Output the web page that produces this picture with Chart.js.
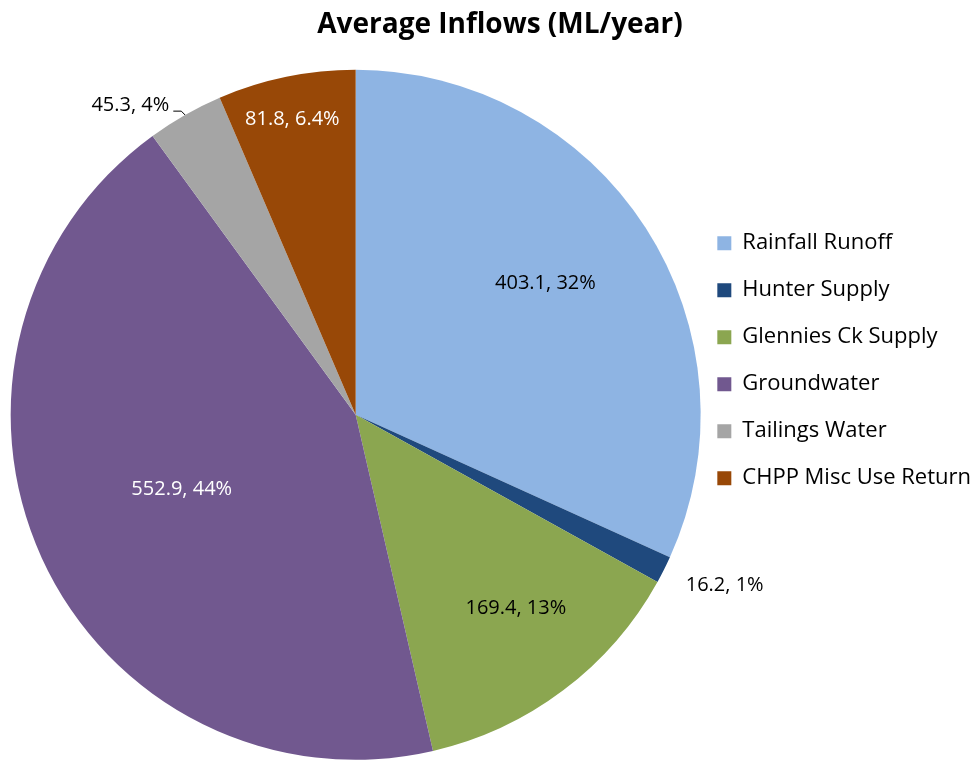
<!DOCTYPE html>
<html>
<head>
<meta charset="utf-8">
<script src="https://cdn.jsdelivr.net/npm/chart.js@4.4.1/dist/chart.umd.min.js"></script>
<style>
  html, body { margin: 0; padding: 0; background: #fff; }
  #wrap { width: 976px; height: 760px; }
</style>
</head>
<body>
<div id="wrap"><canvas id="myChart" width="976" height="760"></canvas></div>
<script>
// data
var categories = ["Rainfall Runoff", "Hunter Supply", "Glennies Ck Supply", "Groundwater", "Tailings Water", "CHPP Misc Use Return"];
var inflows = [403.1, 16.2, 169.4, 552.9, 45.3, 81.8];
var percentLabels = ["32%", "1%", "13%", "44%", "4%", "6.4%"];

// styling
var sliceColors = ['#8EB4E3', '#1F497D', '#8BA650', '#71588F', '#A5A5A5', '#984807'];
var labelColors = ['#000', '#000', '#000', '#fff', '#000', '#fff'];
var labelRadius = [0.67, 1.178, 0.727, 0.549, 1.11, 0.875]; // fraction of outer radius
var labelTurn = [-2, -1.9, -2.7, 1.2, -6.4, -0.5];           // degrees off the slice middle
var leaderLine = [false, false, false, false, true, false];

// draws "value, pct" labels on / next to each slice
var sliceLabels = {
  id: 'sliceLabels',
  afterDatasetsDraw: function (chart) {
    var ctx = chart.ctx;
    var arcs = chart.getDatasetMeta(0).data;
    ctx.save();
    ctx.font = '20px "Open Sans"';
    ctx.textAlign = 'center';
    ctx.textBaseline = 'middle';
    arcs.forEach(function (arc, i) {
      var p = arc.getProps(['x', 'y', 'startAngle', 'endAngle', 'outerRadius'], true);
      var mid = (p.startAngle + p.endAngle) / 2;
      var a = mid + labelTurn[i] * Math.PI / 180;
      var r = p.outerRadius * labelRadius[i];
      var lx = p.x + Math.cos(a) * r;
      var ly = p.y + Math.sin(a) * r;
      var text = inflows[i] + ', ' + percentLabels[i];
      ctx.fillStyle = labelColors[i];
      ctx.fillText(text, lx, ly);

      if (leaderLine[i]) {
        var w = ctx.measureText(text).width;
        var sx = lx + w / 2 + 4;
        var sy = ly + 6;
        ctx.beginPath();
        ctx.moveTo(sx, sy);
        ctx.lineTo(sx + 8, sy);
        ctx.lineTo(p.x + Math.cos(mid) * p.outerRadius, p.y + Math.sin(mid) * p.outerRadius);
        ctx.strokeStyle = '#000';
        ctx.lineWidth = 1;
        ctx.stroke();
      }
    });
    ctx.restore();
  }
};

document.addEventListener("DOMContentLoaded", function () {
  var ctx = document.getElementById("myChart").getContext("2d");

  var myPieChart = new Chart(ctx, {
    type: 'pie',
    data: {
      labels: categories,
      datasets: [{
        label: "Average Inflows",
        data: inflows,
        backgroundColor: sliceColors,
        borderWidth: 0,
        radius: 345
      }]
    },
    options: {
      responsive: false,
      animation: false,
      layout: {
        padding: { left: 19, right: -5, top: 0, bottom: 0 }
      },
      plugins: {
        tooltip: { enabled: false },
        title: {
          display: true,
          text: 'Average Inflows (ML/year)',
          color: '#000',
          font: { family: 'Open Sans', size: 28, weight: 'bold' },
          padding: { top: 8, bottom: 28 }
        },
        legend: {
          position: 'right',
          align: 'start',
          title: {
            display: true,
            text: ' ',
            font: { size: 6 },
            padding: { top: 200, bottom: 0 }
          },
          labels: {
            boxWidth: 14,
            boxHeight: 14,
            padding: 25,
            color: '#000',
            font: { family: 'Open Sans', size: 22 }
          }
        }
      }
    },
    plugins: [sliceLabels]
  });
});
</script>
</body>
</html>
